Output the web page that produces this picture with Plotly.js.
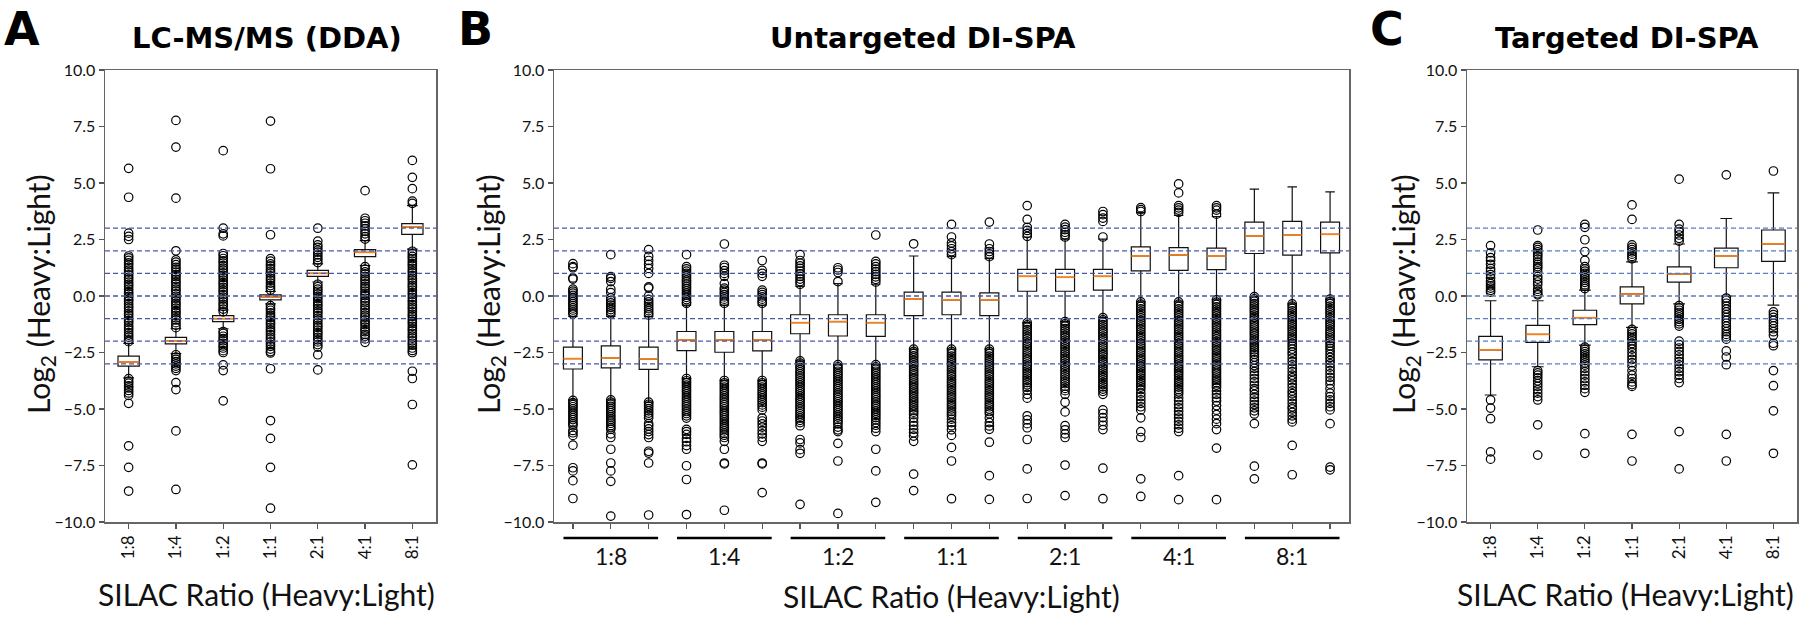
<!DOCTYPE html>
<html>
<head>
<meta charset="utf-8">
<script src="https://cdn.plot.ly/plotly-3.0.1.min.js"></script>
<style>
html,body{margin:0;padding:0;background:#fff;}
#chart{width:1800px;height:618px;}
</style>
</head>
<body>
<div id="chart"></div>
<script>
// ---------------- DATA ----------------
const ratioLabels = ['1:8', '1:4', '1:2', '1:1', '2:1', '4:1', '8:1'];
const refLines = [-3, -2, -1, 0, 1, 2, 3];
const yTickVals = [-10, -7.5, -5, -2.5, 0, 2.5, 5, 7.5, 10];
const panelLetters = ['A', 'B', 'C'];
const panelTitles = ['LC-MS/MS (DDA)', 'Untargeted DI-SPA', 'Targeted DI-SPA'];
const xAxisTitle = 'SILAC Ratio (Heavy:Light)';
const yAxisTitle = 'Log<sub>2</sub> (Heavy:Light)';

// Panel A: LC-MS/MS (DDA)
const ddaQ1     = [-3.10, -2.12, -1.13, -0.17, 0.87, 1.74, 2.73];
const ddaMedian = [-2.92, -1.98, -1.00, -0.05, 1.00, 1.93, 3.05];
const ddaQ3     = [-2.66, -1.83, -0.87, 0.05, 1.13, 2.05, 3.20];
const ddaLow    = [-3.62, -2.55, -1.45, -0.35, 0.62, 1.35, 2.07];
const ddaHigh   = [-2.10, -1.45, -0.62, 0.20, 1.42, 2.45, 4.00];
const ddaOutliers = [
  [5.65, 4.37, 2.78, 2.64, 2.5, 1.77, 1.69, 1.58, 1.47, 1.38, 1.26, 1.15, 1.06, 0.94, 0.83, 0.74, 0.62, 0.51, 0.42, 0.3, 0.19, 0.1, -0.02, -0.13, -0.22, -0.34, -0.45, -0.54, -0.66, -0.77, -0.86, -0.98, -1.09, -1.18, -1.3, -1.41, -1.5, -1.62, -1.73, -1.82, -1.94, -2.02, -3.66, -3.77, -3.86, -3.98, -4.07, -4.18, -4.29, -4.4, -4.75, -6.63, -7.58, -8.63],
  [7.77, 6.59, 4.33, 2.0, 1.6, 1.5, 1.39, 1.27, 1.18, 1.06, 0.95, 0.86, 0.74, 0.63, 0.54, 0.42, 0.31, 0.22, 0.1, -0.01, -0.1, -0.22, -0.33, -0.42, -0.54, -0.65, -0.74, -0.86, -0.97, -1.06, -1.18, -1.29, -1.4, -2.6, -2.7, -2.8, -2.9, -3.0, -3.1, -3.2, -3.3, -3.83, -4.14, -5.97, -8.56],
  [6.43, 3.0, 2.75, 2.66, 1.88, 1.78, 1.66, 1.55, 1.46, 1.34, 1.23, 1.14, 1.02, 0.91, 0.82, 0.7, 0.59, 0.5, 0.38, 0.27, 0.18, 0.06, -0.05, -0.14, -0.26, -0.37, -0.46, -0.58, -0.7, -1.57, -1.66, -1.78, -1.89, -1.98, -2.1, -2.21, -2.3, -2.42, -2.5, -3.05, -3.3, -4.64],
  [7.74, 5.63, 2.71, 1.65, 1.54, 1.42, 1.33, 1.21, 1.1, 1.01, 0.89, 0.78, 0.69, 0.57, 0.46, 0.37, 0.26, -0.43, -0.54, -0.63, -0.75, -0.86, -0.95, -1.07, -1.18, -1.27, -1.39, -1.5, -1.59, -1.71, -1.82, -1.91, -2.03, -2.14, -2.23, -2.35, -2.46, -2.52, -3.22, -5.51, -6.3, -7.58, -9.39],
  [3.0, 2.43, 2.26, 2.15, 2.03, 1.94, 1.82, 1.71, 1.6, 1.48, 0.52, 0.41, 0.3, 0.21, 0.09, -0.02, -0.11, -0.23, -0.34, -0.43, -0.55, -0.66, -0.75, -0.87, -0.98, -1.07, -1.19, -1.3, -1.39, -1.51, -1.62, -1.71, -1.83, -1.94, -2.03, -2.15, -2.26, -2.6, -3.27],
  [4.66, 3.44, 3.33, 3.22, 3.1, 2.98, 2.86, 2.75, 2.63, 2.52, 1.3, 1.19, 1.07, 0.98, 0.86, 0.75, 0.66, 0.54, 0.43, 0.34, 0.22, 0.11, 0.02, -0.1, -0.21, -0.3, -0.42, -0.53, -0.62, -0.74, -0.85, -0.94, -1.06, -1.17, -1.26, -1.38, -1.49, -1.58, -1.7, -1.78, -1.9, -2.05],
  [6.0, 5.25, 4.75, 4.2, 4.1, 1.98, 1.87, 1.75, 1.66, 1.54, 1.43, 1.34, 1.22, 1.11, 1.02, 0.9, 0.79, 0.7, 0.58, 0.47, 0.38, 0.26, 0.15, 0.06, -0.06, -0.17, -0.26, -0.38, -0.49, -0.58, -0.7, -0.81, -0.9, -1.02, -1.13, -1.22, -1.34, -1.45, -1.54, -1.66, -1.77, -1.86, -1.98, -2.09, -2.18, -2.3, -2.41, -2.5, -3.33, -3.65, -4.8, -7.47]
];

// Panel B: Untargeted DI-SPA (3 replicates per ratio)
const untReplicates = 3;
const untQ1     = [-3.23, -3.18, -3.25, -2.42, -2.49, -2.43, -1.67, -1.77, -1.79, -0.87, -0.83, -0.87, 0.21, 0.21, 0.26, 1.11, 1.13, 1.17, 1.88, 1.81, 1.91];
const untMedian = [-2.77, -2.75, -2.78, -1.95, -1.95, -1.95, -1.18, -1.13, -1.18, -0.14, -0.17, -0.17, 0.87, 0.83, 0.87, 1.77, 1.81, 1.77, 2.66, 2.70, 2.73];
const untQ3     = [-2.26, -2.21, -2.26, -1.57, -1.57, -1.57, -0.83, -0.83, -0.83, 0.17, 0.17, 0.14, 1.18, 1.18, 1.18, 2.17, 2.14, 2.12, 3.27, 3.30, 3.27];
const untLow    = [-4.60, -4.60, -4.70, -3.65, -3.74, -3.74, -2.87, -3.04, -3.04, -2.35, -2.35, -2.35, -1.18, -1.13, -0.96, -0.26, -0.26, -0.17, -0.03, -0.35, -0.14];
const untHigh   = [-0.90, -0.90, -0.90, -0.40, -0.40, -0.40, 0.43, 0.55, 0.52, 1.77, 1.74, 1.65, 2.61, 2.52, 2.52, 3.69, 3.57, 3.51, 4.73, 4.83, 4.61];
const untOutliers = [
  [1.43, 1.3, 1.25, 0.8, 0.75, 0.3, 0.22, 0.13, 0.03, -0.07, -0.15, -0.25, -0.34, -0.43, -0.53, -0.62, -0.72, -0.8, -4.62, -4.72, -4.81, -4.9, -5.0, -5.1, -5.19, -5.28, -5.38, -5.47, -5.57, -5.66, -5.74, -5.95, -6.05, -6.17, -6.6, -7.6, -7.74, -8.17, -8.96],
  [1.83, 0.86, 0.78, 0.64, 0.3, 0.15, -0.08, -0.2, -0.3, -0.4, -0.5, -0.6, -0.7, -0.8, -4.6, -4.7, -4.79, -4.88, -4.98, -5.07, -5.16, -5.26, -5.35, -5.45, -5.54, -5.63, -5.73, -5.82, -5.9, -6.1, -6.26, -6.78, -7.39, -7.74, -8.2, -9.74],
  [2.05, 1.75, 1.57, 1.4, 1.22, 1.0, 0.4, 0.35, 0.0, -0.15, -0.26, -0.36, -0.46, -0.56, -0.65, -0.75, -0.84, -4.7, -4.79, -4.88, -4.98, -5.08, -5.18, -5.28, -5.4, -5.65, -5.75, -5.88, -6.0, -6.13, -6.26, -6.87, -6.95, -7.39, -9.69],
  [1.83, 1.3, 1.2, 1.1, 1.0, 0.9, 0.8, 0.7, 0.62, 0.52, 0.42, 0.33, 0.23, 0.13, 0.04, -0.06, -0.16, -0.26, -0.32, -3.65, -3.75, -3.84, -3.94, -4.04, -4.14, -4.23, -4.33, -4.43, -4.52, -4.62, -4.72, -4.82, -4.91, -5.01, -5.11, -5.2, -5.3, -5.4, -5.9, -6.0, -6.12, -6.3, -6.45, -6.62, -6.78, -7.51, -8.12, -9.67],
  [2.3, 1.36, 1.26, 1.12, 1.0, 0.87, 0.55, 0.35, 0.26, 0.16, 0.06, -0.04, -0.14, -0.24, -0.32, -3.74, -3.84, -3.93, -4.03, -4.13, -4.22, -4.32, -4.42, -4.52, -4.61, -4.71, -4.81, -4.9, -5.0, -5.1, -5.19, -5.29, -5.39, -5.48, -5.58, -5.68, -5.78, -5.87, -5.97, -6.07, -6.16, -6.26, -6.43, -6.78, -7.39, -7.43, -9.48],
  [1.57, 1.13, 1.0, 0.87, 0.26, 0.16, 0.06, -0.04, -0.14, -0.24, -0.32, -3.74, -3.84, -3.93, -4.03, -4.13, -4.23, -4.33, -4.42, -4.52, -4.62, -4.72, -4.82, -4.92, -5.04, -5.4, -5.53, -5.66, -5.8, -5.96, -6.1, -6.25, -6.43, -7.39, -7.43, -8.7],
  [1.83, 1.57, 1.45, 1.33, 1.22, 1.1, 0.98, 0.87, 0.75, 0.64, 0.52, -2.87, -2.97, -3.07, -3.16, -3.26, -3.36, -3.45, -3.55, -3.65, -3.75, -3.84, -3.94, -4.04, -4.14, -4.23, -4.33, -4.43, -4.53, -4.62, -4.72, -4.82, -4.92, -5.01, -5.11, -5.21, -5.31, -5.4, -5.5, -5.6, -5.74, -6.35, -6.5, -6.8, -6.96, -9.22],
  [1.25, 1.15, 1.04, 0.64, -3.04, -3.14, -3.23, -3.33, -3.43, -3.52, -3.62, -3.72, -3.81, -3.91, -4.01, -4.1, -4.2, -4.3, -4.39, -4.49, -4.59, -4.68, -4.78, -4.88, -4.98, -5.07, -5.17, -5.27, -5.36, -5.46, -5.56, -5.66, -5.8, -5.92, -6.0, -6.52, -7.3, -9.62],
  [2.7, 1.53, 1.42, 1.3, 1.19, 1.08, 0.96, 0.85, 0.74, 0.62, -3.04, -3.14, -3.24, -3.33, -3.43, -3.53, -3.63, -3.72, -3.82, -3.92, -4.02, -4.11, -4.21, -4.31, -4.41, -4.5, -4.6, -4.7, -4.8, -4.89, -4.99, -5.09, -5.19, -5.28, -5.38, -5.48, -5.6, -5.72, -5.85, -6.0, -6.78, -7.74, -9.13],
  [2.31, -2.35, -2.45, -2.55, -2.65, -2.74, -2.85, -2.95, -3.05, -3.14, -3.25, -3.35, -3.45, -3.54, -3.65, -3.75, -3.85, -3.94, -4.05, -4.15, -4.25, -4.34, -4.45, -4.55, -4.65, -4.74, -4.85, -4.95, -5.05, -5.14, -5.25, -5.4, -5.58, -5.74, -5.9, -6.05, -6.2, -6.43, -7.88, -8.61],
  [3.17, 2.61, 2.35, 2.22, 2.09, 1.96, 1.83, -2.35, -2.45, -2.55, -2.66, -2.76, -2.86, -2.96, -3.06, -3.17, -3.27, -3.37, -3.47, -3.57, -3.68, -3.78, -3.88, -3.98, -4.08, -4.19, -4.29, -4.39, -4.49, -4.59, -4.7, -4.8, -4.9, -5.0, -5.11, -5.21, -5.31, -5.45, -5.6, -5.74, -5.92, -6.17, -6.7, -7.3, -8.97],
  [3.27, 2.3, 2.09, 1.97, 1.86, 1.74, -2.35, -2.45, -2.55, -2.66, -2.76, -2.86, -2.96, -3.06, -3.17, -3.27, -3.37, -3.47, -3.57, -3.68, -3.78, -3.88, -3.98, -4.08, -4.19, -4.29, -4.39, -4.49, -4.59, -4.7, -4.8, -4.9, -5.0, -5.11, -5.21, -5.4, -5.6, -5.75, -5.9, -6.47, -7.95, -9.0],
  [4.0, 3.39, 3.04, 2.9, 2.76, 2.64, -1.18, -1.28, -1.38, -1.49, -1.59, -1.69, -1.79, -1.89, -2.0, -2.1, -2.2, -2.3, -2.4, -2.51, -2.61, -2.71, -2.81, -2.91, -3.02, -3.12, -3.22, -3.32, -3.42, -3.53, -3.63, -3.73, -3.83, -3.93, -4.04, -4.17, -4.35, -4.52, -5.3, -5.48, -5.65, -5.83, -6.35, -7.65, -8.96],
  [3.17, 3.05, 2.94, 2.82, 2.71, 2.61, -1.13, -1.23, -1.33, -1.44, -1.54, -1.64, -1.74, -1.84, -1.95, -2.05, -2.15, -2.25, -2.35, -2.46, -2.56, -2.66, -2.76, -2.86, -2.97, -3.07, -3.17, -3.27, -3.37, -3.48, -3.58, -3.68, -3.78, -3.88, -3.99, -4.09, -4.19, -4.35, -4.7, -5.13, -5.74, -5.92, -6.1, -6.26, -7.48, -8.83],
  [3.74, 3.6, 3.45, 3.3, 2.61, -0.96, -1.06, -1.16, -1.27, -1.37, -1.47, -1.57, -1.67, -1.78, -1.88, -1.98, -2.08, -2.18, -2.29, -2.39, -2.49, -2.59, -2.69, -2.8, -2.9, -3.0, -3.1, -3.2, -3.31, -3.41, -3.51, -3.61, -3.71, -3.82, -3.92, -4.02, -4.12, -4.22, -4.35, -5.04, -5.2, -5.38, -5.55, -5.72, -5.91, -7.62, -8.97],
  [3.91, 3.82, 3.74, -0.26, -0.36, -0.46, -0.57, -0.67, -0.77, -0.87, -0.97, -1.08, -1.18, -1.28, -1.38, -1.48, -1.59, -1.69, -1.79, -1.89, -1.99, -2.1, -2.2, -2.3, -2.4, -2.5, -2.61, -2.71, -2.81, -2.91, -3.01, -3.12, -3.22, -3.32, -3.42, -3.52, -3.63, -3.73, -3.83, -3.93, -4.03, -4.14, -4.3, -4.45, -4.6, -4.75, -4.9, -5.04, -5.39, -6.0, -6.26, -8.09, -8.87],
  [4.96, 4.56, 4.0, 3.9, 3.8, 3.7, -0.26, -0.36, -0.46, -0.57, -0.67, -0.77, -0.87, -0.97, -1.08, -1.18, -1.28, -1.38, -1.48, -1.59, -1.69, -1.79, -1.89, -1.99, -2.1, -2.2, -2.3, -2.4, -2.5, -2.61, -2.71, -2.81, -2.91, -3.01, -3.12, -3.22, -3.32, -3.42, -3.52, -3.63, -3.73, -3.83, -3.93, -4.03, -4.14, -4.24, -4.34, -4.5, -4.65, -4.8, -4.95, -5.1, -5.25, -5.4, -5.55, -5.7, -5.85, -6.0, -7.95, -9.01],
  [4.0, 3.9, 3.8, 3.62, -0.17, -0.27, -0.37, -0.48, -0.58, -0.68, -0.78, -0.88, -0.99, -1.09, -1.19, -1.29, -1.39, -1.5, -1.6, -1.7, -1.8, -1.9, -2.01, -2.11, -2.21, -2.31, -2.41, -2.52, -2.62, -2.72, -2.82, -2.92, -3.03, -3.13, -3.23, -3.33, -3.43, -3.54, -3.64, -3.74, -3.84, -3.94, -4.05, -4.2, -4.35, -4.5, -4.65, -4.85, -5.05, -5.25, -5.45, -5.65, -5.91, -6.73, -9.01],
  [-0.03, -0.13, -0.23, -0.34, -0.44, -0.54, -0.64, -0.74, -0.85, -0.95, -1.05, -1.15, -1.25, -1.36, -1.46, -1.56, -1.66, -1.76, -1.87, -1.97, -2.07, -2.17, -2.27, -2.38, -2.48, -2.58, -2.7, -2.82, -2.95, -3.08, -3.2, -3.35, -3.5, -3.65, -3.8, -3.95, -4.1, -4.2, -4.35, -4.5, -4.65, -4.8, -4.95, -5.08, -5.22, -5.65, -7.53, -8.09],
  [-0.35, -0.45, -0.55, -0.66, -0.76, -0.86, -0.96, -1.06, -1.17, -1.27, -1.37, -1.47, -1.57, -1.68, -1.78, -1.88, -1.98, -2.1, -2.22, -2.35, -2.48, -2.6, -2.75, -2.9, -3.05, -3.2, -3.35, -3.5, -3.62, -3.75, -3.9, -4.05, -4.2, -4.32, -4.45, -4.6, -4.75, -4.9, -5.0, -5.15, -5.3, -5.45, -5.57, -6.61, -7.91],
  [-0.14, -0.24, -0.34, -0.45, -0.55, -0.65, -0.75, -0.85, -0.96, -1.06, -1.16, -1.26, -1.36, -1.47, -1.57, -1.67, -1.77, -1.87, -1.98, -2.08, -2.2, -2.32, -2.45, -2.58, -2.72, -2.86, -3.0, -3.15, -3.3, -3.45, -3.6, -3.75, -3.9, -4.1, -4.3, -4.45, -4.6, -4.75, -4.9, -5.04, -5.65, -7.57, -7.69]
];

// Panel C: Targeted DI-SPA
const tgtQ1     = [-2.83, -2.05, -1.27, -0.35, 0.61, 1.25, 1.53];
const tgtMedian = [-2.38, -1.70, -0.96, 0.09, 0.97, 1.77, 2.31];
const tgtQ3     = [-1.79, -1.30, -0.63, 0.40, 1.29, 2.12, 2.92];
const tgtLow    = [-4.38, -3.13, -2.17, -1.39, -0.35, 0.00, -0.40];
const tgtHigh   = [-0.21, -0.21, 0.26, 1.51, 2.30, 3.43, 4.56];
const tgtOutliers = [
  [2.23, 1.91, 1.7, 1.57, 1.4, 1.22, 1.1, 0.95, 0.8, 0.65, 0.55, 0.45, 0.35, 0.25, 0.17, -4.6, -4.96, -5.43, -6.9, -7.22],
  [2.92, 2.23, 2.15, 2.05, 1.95, 1.85, 1.75, 1.63, 1.5, 1.4, 1.3, 1.22, 1.05, 0.87, 0.75, 0.62, 0.5, 0.3, 0.2, 0.1, 0.05, -3.3, -3.4, -3.5, -3.62, -3.75, -3.88, -4.0, -4.15, -4.3, -4.45, -4.6, -5.7, -7.04],
  [3.17, 3.04, 2.49, 1.97, 1.57, 1.3, 1.2, 1.1, 1.0, 0.9, 0.8, 0.7, 0.6, 0.5, 0.42, 0.33, -2.26, -2.36, -2.46, -2.56, -2.66, -2.76, -2.86, -2.96, -3.06, -3.2, -3.35, -3.5, -3.65, -3.8, -3.95, -4.1, -4.26, -6.09, -6.96],
  [4.03, 3.39, 2.26, 2.15, 2.05, 1.95, 1.85, 1.75, 1.65, -1.48, -1.58, -1.68, -1.78, -1.88, -1.98, -2.1, -2.22, -2.35, -2.5, -2.65, -2.8, -2.95, -3.1, -3.3, -3.5, -3.65, -3.8, -3.92, -4.0, -6.12, -7.3],
  [5.17, 3.17, 2.96, 2.85, 2.7, 2.55, 2.43, -0.43, -0.53, -0.63, -0.73, -0.83, -0.93, -1.03, -1.13, -1.23, -1.33, -2.0, -2.15, -2.3, -2.45, -2.6, -2.75, -2.9, -3.05, -3.2, -3.35, -3.5, -3.65, -3.83, -6.0, -7.65],
  [5.36, -0.09, -0.2, -0.32, -0.45, -0.58, -0.7, -0.82, -0.95, -1.08, -1.2, -1.33, -1.45, -1.58, -1.7, -1.8, -1.91, -2.43, -2.7, -3.04, -6.12, -7.3],
  [5.53, -0.7, -0.82, -0.95, -1.08, -1.2, -1.32, -1.45, -1.58, -1.74, -2.09, -2.2, -3.3, -3.97, -5.08, -6.96]
];

// ---------------- BUILD ----------------
const W = 1800, H = 618;
const px = v => v / W;
const py = v => 1 - v / H;
const FONT = 'Lato, "Open Sans", sans-serif';
const BOLD = '"DejaVu Sans", sans-serif';
const ORANGE = '#ff7f0e';

function panelTraces(xa, ya, q1, med, q3, lo, hi, outs, boxW) {
  const pos = q1.map((_, i) => i + 1);
  const tr = [];
  tr.push({
    type: 'box', x: pos, q1: q1, median: med, q3: q3, lowerfence: lo, upperfence: hi,
    xaxis: xa, yaxis: ya, boxpoints: false, width: boxW, whiskerwidth: 0.5,
    fillcolor: '#ffffff', line: {color: '#111111', width: 1.2},
    hoverinfo: 'skip', showlegend: false
  });
  const ox = [], oy = [];
  outs.forEach((arr, i) => arr.forEach(v => { ox.push(i + 1); oy.push(v); }));
  tr.push({
    type: 'scatter', mode: 'markers', x: ox, y: oy, xaxis: xa, yaxis: ya,
    marker: {symbol: 'circle-open', size: 8.5, color: '#000000', line: {width: 1.2, color: '#000000'}},
    hoverinfo: 'skip', showlegend: false
  });
  const mx = [], my = [];
  med.forEach((m, i) => { mx.push(i + 1 - boxW / 2, i + 1 + boxW / 2, null); my.push(m, m, null); });
  tr.push({
    type: 'scatter', mode: 'lines', x: mx, y: my, xaxis: xa, yaxis: ya,
    line: {color: ORANGE, width: 1.6}, hoverinfo: 'skip', showlegend: false
  });
  return tr;
}

const untPositions = untQ1.map((_, i) => i + 1);

const traces = [].concat(
  panelTraces('x', 'y', ddaQ1, ddaMedian, ddaQ3, ddaLow, ddaHigh, ddaOutliers, 0.45),
  panelTraces('x2', 'y2', untQ1, untMedian, untQ3, untLow, untHigh, untOutliers, 0.5),
  panelTraces('x3', 'y3', tgtQ1, tgtMedian, tgtQ3, tgtLow, tgtHigh, tgtOutliers, 0.5)
);

const PLOT_TOP = 70, PLOT_BOTTOM = 522;
const yDom = [py(PLOT_BOTTOM), py(PLOT_TOP)];
const xDoms = [[px(105), px(436)], [px(554), px(1349)], [px(1467), px(1797)]];

function yAxis(anchor, dom) {
  return {
    domain: dom, anchor: anchor, range: [-10, 10],
    tickvals: yTickVals, tickformat: '.1f', ticks: 'outside', ticklen: 5, tickwidth: 1.2,
    tickcolor: '#555', showline: true, linecolor: '#666', linewidth: 1.5, mirror: true,
    showgrid: false, zeroline: false,
    tickfont: {family: FONT, size: 16, color: '#111'}
  };
}

function xAxisCat(anchor, dom) {
  return {
    domain: dom, anchor: anchor, range: [0.5, 7.5],
    tickvals: ratioLabels.map((_, i) => i + 1), ticktext: ratioLabels, tickangle: -90,
    ticks: 'outside', ticklen: 5, tickwidth: 1.2, tickcolor: '#555',
    showline: true, linecolor: '#666', linewidth: 1.5, mirror: true,
    showgrid: false, zeroline: false,
    tickfont: {family: FONT, size: 17, color: '#111'}
  };
}

const layout = {
  width: W, height: H, margin: {l: 0, r: 0, t: 0, b: 0},
  paper_bgcolor: '#ffffff', plot_bgcolor: '#ffffff', showlegend: false,
  xaxis: xAxisCat('y', xDoms[0]),
  yaxis: yAxis('x', yDom),
  xaxis2: {
    domain: xDoms[1], anchor: 'y2', range: [0.5, untQ1.length + 0.5],
    tickvals: untPositions, showticklabels: false,
    ticks: 'outside', ticklen: 5, tickwidth: 1.2, tickcolor: '#555',
    showline: true, linecolor: '#666', linewidth: 1.5, mirror: true,
    showgrid: false, zeroline: false
  },
  yaxis2: yAxis('x2', yDom),
  xaxis3: xAxisCat('y3', xDoms[2]),
  yaxis3: yAxis('x3', yDom),
  shapes: [],
  annotations: []
};

// reference dashed lines
const lineColors = ['#4a57a8', '#4a57a8', '#5a7cc4'];
['', '2', '3'].forEach((s, k) => {
  refLines.forEach(v => {
    layout.shapes.push({
      type: 'line', xref: 'x' + s + ' domain', yref: 'y' + s, x0: 0, x1: 1, y0: v, y1: v,
      line: {color: lineColors[k], width: 1.3, dash: '5px,3px'}, layer: 'above'
    });
  });
});

// group bars + labels for panel B
ratioLabels.forEach((lab, g) => {
  const first = g * untReplicates + 1, last = first + untReplicates - 1;
  layout.shapes.push({
    type: 'line', xref: 'x2', yref: 'paper', x0: first - 0.25, x1: last + 0.25,
    y0: py(538), y1: py(538), line: {color: '#000', width: 2.5}
  });
  layout.annotations.push({
    text: lab, xref: 'x2', yref: 'paper', x: (first + last) / 2, y: py(556),
    xanchor: 'center', yanchor: 'middle', showarrow: false,
    font: {family: FONT, size: 23, color: '#111'}
  });
});

// panel letters and titles
const letterPos = [[22, 29], [475, 29], [1387, 29]];
const titlePos = [[267, 38], [923, 38], [1627, 38]];
const yTitlePos = [[40, 294], [490, 294], [1405, 294]];
const xTitlePos = [[266, 594], [951, 596], [1625, 594]];
for (let k = 0; k < 3; k++) {
  layout.annotations.push({
    text: '<b>' + panelLetters[k] + '</b>', xref: 'paper', yref: 'paper',
    x: px(letterPos[k][0]), y: py(letterPos[k][1]), xanchor: 'center', yanchor: 'middle',
    showarrow: false, font: {family: BOLD, size: 46, color: '#000'}
  });
  layout.annotations.push({
    text: '<b>' + panelTitles[k] + '</b>', xref: 'paper', yref: 'paper',
    x: px(titlePos[k][0]), y: py(titlePos[k][1]), xanchor: 'center', yanchor: 'middle',
    showarrow: false, font: {family: BOLD, size: 29, color: '#000'}
  });
  layout.annotations.push({
    text: yAxisTitle, xref: 'paper', yref: 'paper', textangle: -90,
    x: px(yTitlePos[k][0]), y: py(yTitlePos[k][1]), xanchor: 'center', yanchor: 'middle',
    showarrow: false, font: {family: FONT, size: 30, color: '#111'}
  });
  layout.annotations.push({
    text: xAxisTitle, xref: 'paper', yref: 'paper',
    x: px(xTitlePos[k][0]), y: py(xTitlePos[k][1]), xanchor: 'center', yanchor: 'middle',
    showarrow: false, font: {family: FONT, size: 30, color: '#111'}
  });
}

Plotly.newPlot('chart', traces, layout, {displayModeBar: false, staticPlot: true});
</script>
</body>
</html>
